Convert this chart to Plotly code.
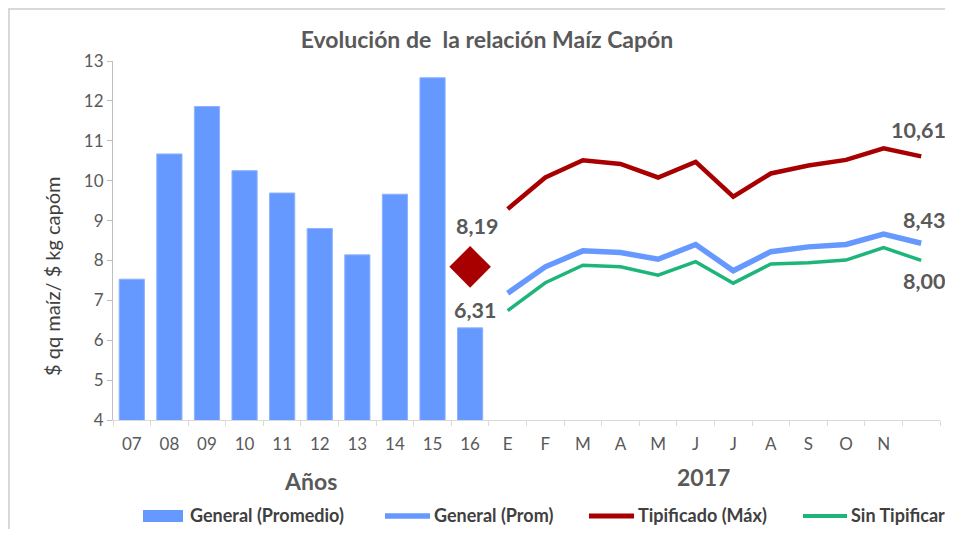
import plotly.graph_objects as go

# ---------------- data ----------------
years = ["07", "08", "09", "10", "11", "12", "13", "14", "15", "16"]
bar_values = [7.53, 10.67, 11.86, 10.25, 9.69, 8.80, 8.14, 9.66, 12.58, 6.31]

month_labels = ["E", "F", "M", "A", "M", "J", "J", "A", "S", "O", "N", ""]
month_keys = ["m01", "m02", "m03", "m04", "m05", "m06", "m07", "m08", "m09", "m10", "m11", "m12"]

tipificado = [9.29, 10.08, 10.51, 10.42, 10.08, 10.47, 9.60, 10.18, 10.38, 10.52, 10.81, 10.61]
general_prom = [7.18, 7.84, 8.24, 8.20, 8.03, 8.40, 7.74, 8.22, 8.34, 8.40, 8.66, 8.43]
sin_tipificar = [6.74, 7.44, 7.88, 7.84, 7.63, 7.97, 7.43, 7.91, 7.94, 8.01, 8.32, 8.00]

diamond_x = "16"
diamond_y = 7.84
diamond_label = "8,19"

last_labels = {"tip": "10,61", "gen": "8,43", "sin": "8,00", "bar": "6,31"}

# ---------------- style ----------------
OFF = 8                     # default page body margin
W, H = 953 - 2 * OFF, 537 - 2 * OFF
L, T = 113 - OFF, 61 - OFF
R = W - (940 - OFF)
B = H - (420 - OFF)
PW = W - L - R
PH = H - T - B
FONT = "Lato, 'Open Sans', sans-serif"
BLUE = "#6699FF"
RED = "#A80000"
GREEN = "#1DB57A"
GRAY = "#595959"
DARK = "#404040"


def px_x(px):
    return (px - OFF - L) / PW


def px_y(py):
    return ((420 - OFF) - (py - OFF)) / PH


all_keys = years + month_keys
all_text = years + month_labels

fig = go.Figure()

fig.add_trace(go.Bar(x=years, y=bar_values, marker=dict(color=BLUE, line=dict(color="#8DB2FF", width=1)),
                     name="General (Promedio)", showlegend=False))

fig.add_trace(go.Scatter(x=month_keys, y=general_prom, mode="lines", line=dict(color=BLUE, width=5.5),
                         name="General (Prom)", showlegend=False))
fig.add_trace(go.Scatter(x=month_keys, y=tipificado, mode="lines", line=dict(color=RED, width=4.5),
                         name="Tipificado (Máx)", showlegend=False))
fig.add_trace(go.Scatter(x=month_keys, y=sin_tipificar, mode="lines", line=dict(color=GREEN, width=3.5),
                         name="Sin Tipificar", showlegend=False))

fig.add_trace(go.Scatter(x=[diamond_x], y=[diamond_y], mode="markers",
                         marker=dict(symbol="diamond", size=32, color=RED, line=dict(width=0)),
                         showlegend=False))

i16 = all_keys.index(years[-1])
ilast = all_keys.index(month_keys[-1])
idia = all_keys.index(diamond_x)

label_font = dict(family=FONT, size=21.5, color=GRAY, weight="bold")
annotations = [
    dict(x=idia, y=diamond_y, text=diamond_label, showarrow=False, xshift=7, yshift=41, font=label_font),
    dict(x=i16, y=bar_values[-1], text=last_labels["bar"], showarrow=False, xshift=5, yshift=18, font=label_font),
    dict(x=ilast, y=tipificado[-1], text=last_labels["tip"], showarrow=False, xshift=-3, yshift=26, font=label_font),
    dict(x=ilast, y=general_prom[-1], text=last_labels["gen"], showarrow=False, xshift=3, yshift=23, font=label_font),
    dict(x=ilast, y=sin_tipificar[-1], text=last_labels["sin"], showarrow=False, xshift=3, yshift=-21, font=label_font),
    dict(xref="paper", yref="paper", x=px_x(310.5), y=px_y(481), text="Años", showarrow=False,
         xanchor="center", yanchor="middle",
         font=dict(family=FONT, size=23, color=GRAY, weight="bold")),
    dict(xref="paper", yref="paper", x=px_x(703), y=px_y(477), text="2017", showarrow=False,
         xanchor="center", yanchor="middle",
         font=dict(family=FONT, size=23, color=GRAY, weight="bold")),
    dict(xref="paper", yref="paper", x=px_x(52), y=px_y(276), text="$ qq maíz/ $ kg capóm", showarrow=False,
         xanchor="center", yanchor="middle",
         textangle=-90, font=dict(family=FONT, size=20, color=DARK)),
]

# manual legend
legend_items = [
    ("bar", BLUE, 143, 183, 188, "General (Promedio)", 0),
    ("line", BLUE, 385, 430, 432, "General (Prom)", 5.5),
    ("line", RED, 589, 634, 636, "Tipificado (Máx)", 5),
    ("line", GREEN, 803, 847, 849, "Sin Tipificar", 4),
]
shapes = []
ly = 516
for kind, col, x0, x1, tx, txt, lw in legend_items:
    if kind == "bar":
        shapes.append(dict(type="rect", xref="paper", yref="paper", x0=px_x(x0), x1=px_x(x1),
                           y0=px_y(ly + 6), y1=px_y(ly - 6), fillcolor=col, line=dict(width=0)))
    else:
        shapes.append(dict(type="line", xref="paper", yref="paper", x0=px_x(x0), x1=px_x(x1),
                           y0=px_y(ly), y1=px_y(ly), line=dict(color=col, width=lw)))
    annotations.append(dict(xref="paper", yref="paper", x=px_x(tx), y=px_y(ly - 1), text=txt, showarrow=False,
                            xanchor="left", yanchor="middle",
                            font=dict(family=FONT, size=18, color=DARK, weight="bold")))

# chart border (left & top)
shapes.append(dict(type="line", xref="paper", yref="paper", x0=px_x(9), x1=px_x(9), y0=px_y(540), y1=px_y(8),
                   line=dict(color="#D9D9D9", width=2)))
shapes.append(dict(type="line", xref="paper", yref="paper", x0=px_x(8), x1=px_x(960), y0=px_y(9), y1=px_y(9),
                   line=dict(color="#D9D9D9", width=2)))

fig.update_layout(
    width=W, height=H,
    margin=dict(l=L, r=R, t=T, b=B, pad=0),
    paper_bgcolor="white", plot_bgcolor="white",
    bargap=0.33,
    showlegend=False,
    title=dict(text="Evolución de  la relación Maíz Capón", x=px_x(487), xref="paper", xanchor="center",
               y=1 - (40 - OFF) / H, yanchor="middle",
               font=dict(family=FONT, size=23, color=GRAY, weight="bold")),
    xaxis=dict(type="category", categoryorder="array", categoryarray=all_keys,
               tickvals=all_keys, ticktext=all_text, range=[-0.5, len(all_keys) - 0.5],
               showline=True, linecolor="#D9D9D9", linewidth=1,
               ticks="outside", tickson="boundaries", ticklen=5, tickcolor="#D9D9D9",
               ticklabelstandoff=9,
               showgrid=False, zeroline=False,
               tickfont=dict(family=FONT, size=17, color=GRAY)),
    yaxis=dict(range=[4, 13], dtick=1, showline=True, linecolor="#BFBFBF", linewidth=1,
               ticks="outside", ticklen=5, tickcolor="#BFBFBF", showgrid=False, zeroline=False,
               tickfont=dict(family=FONT, size=17, color=GRAY)),
    annotations=annotations,
    shapes=shapes,
)

fig.write_html("out.html")
